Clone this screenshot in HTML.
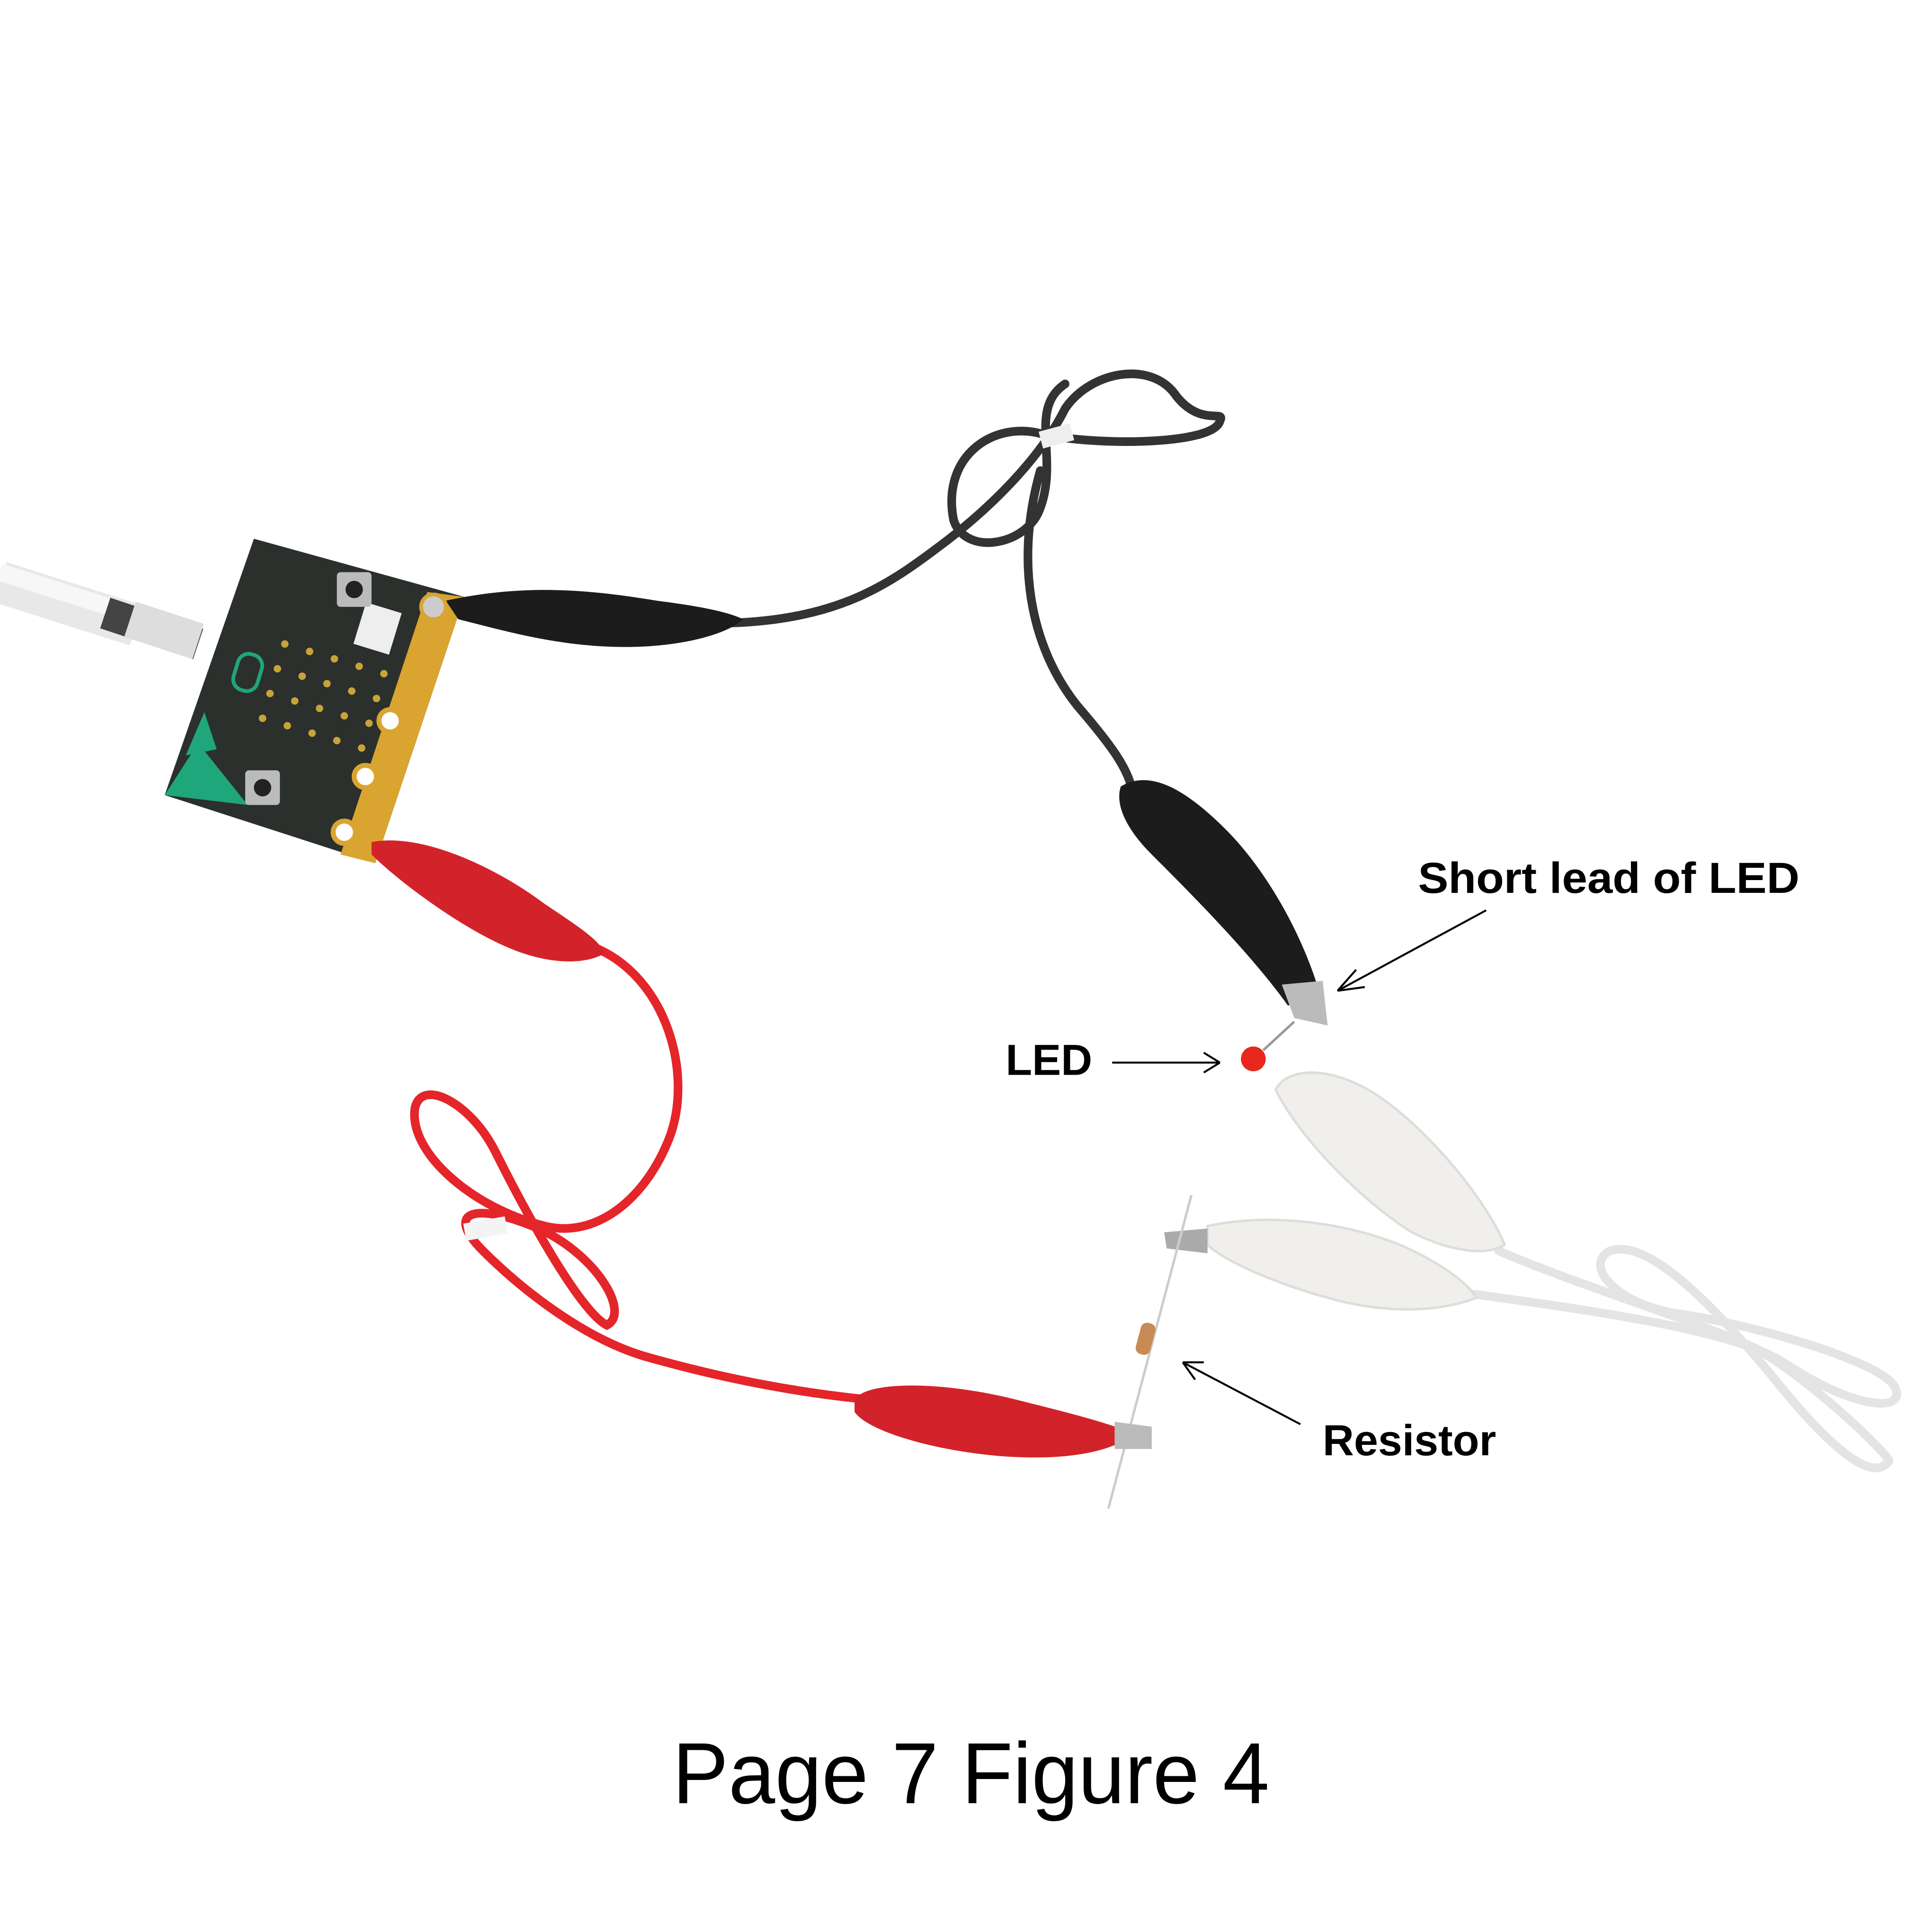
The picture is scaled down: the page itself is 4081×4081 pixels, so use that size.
<!DOCTYPE html>
<html><head><meta charset="utf-8"><style>
html,body{margin:0;padding:0;background:#fff}
svg{display:block}
</style></head><body>
<svg width="4081" height="4081" viewBox="0 0 1560 1560" xmlns="http://www.w3.org/2000/svg">
<rect width="1560" height="1560" fill="#fff"/>
<!-- USB cable -->
<path d="M0,470 L110,505" stroke="#e8e8e8" stroke-width="34" stroke-linecap="butt" fill="none"/>
<path d="M0,462 L110,497" stroke="#f7f7f7" stroke-width="14" fill="none"/>
<path d="M85,495 L160,520" stroke="#444" stroke-width="26" fill="none"/>
<path d="M105,500 L160,518" stroke="#ddd" stroke-width="30" fill="none"/>
<!-- micro:bit board -->
<polygon points="205,435 375,482 303,697 133,642" fill="#2b302c"/>
<polygon points="345,478 375,482 303,697 275,690" fill="#d9a530"/>
<polygon points="133,642 200,650 160,600" fill="#1fa67a"/>
<polygon points="150,610 165,575 175,605" fill="#1fa67a"/>
<rect x="290" y="490" width="30" height="35" fill="#eee" transform="rotate(17 305 507)"/>
<rect x="272" y="462" width="28" height="28" fill="#bbb" rx="3"/>
<circle cx="286" cy="476" r="7" fill="#222"/>
<rect x="198" y="622" width="28" height="28" fill="#bbb" rx="3"/>
<circle cx="212" cy="636" r="7" fill="#222"/>
<g fill="#c9a23a">
<circle cx="230" cy="520" r="3"/><circle cx="250" cy="526" r="3"/><circle cx="270" cy="532" r="3"/><circle cx="290" cy="538" r="3"/><circle cx="310" cy="544" r="3"/>
<circle cx="224" cy="540" r="3"/><circle cx="244" cy="546" r="3"/><circle cx="264" cy="552" r="3"/><circle cx="284" cy="558" r="3"/><circle cx="304" cy="564" r="3"/>
<circle cx="218" cy="560" r="3"/><circle cx="238" cy="566" r="3"/><circle cx="258" cy="572" r="3"/><circle cx="278" cy="578" r="3"/><circle cx="298" cy="584" r="3"/>
<circle cx="212" cy="580" r="3"/><circle cx="232" cy="586" r="3"/><circle cx="252" cy="592" r="3"/><circle cx="272" cy="598" r="3"/><circle cx="292" cy="604" r="3"/>
</g>
<rect x="190" y="528" width="20" height="30" rx="9" fill="none" stroke="#1fa67a" stroke-width="3" transform="rotate(17 200 543)"/>
<circle cx="315" cy="582" r="9" fill="#fff" stroke="#d9a530" stroke-width="4"/>
<circle cx="295" cy="627" r="9" fill="#fff" stroke="#d9a530" stroke-width="4"/>
<circle cx="278" cy="672" r="9" fill="#fff" stroke="#d9a530" stroke-width="4"/>
<!-- black wire -->
<path d="M590,503 C680,500 720,470 760,440 C800,410 840,370 860,330 C880,300 930,290 950,320 C970,345 990,330 985,340 C980,360 880,360 840,350 C800,340 760,370 770,420 C780,450 830,440 840,410 C855,370 830,330 860,310 M840,380 C820,450 830,520 870,570 C900,605 910,620 915,640" stroke="#333" stroke-width="7" fill="none" stroke-linecap="round"/>
<rect x="840" y="345" width="26" height="14" fill="#eee" transform="rotate(-15 853 352)"/>
<!-- black clip top -->
<path d="M360,485 C420,472 470,475 530,485 C570,490 590,495 600,500 C590,510 560,520 520,522 C460,525 410,510 370,500 Z" fill="#1c1c1c"/>
<circle cx="350" cy="490" r="10" fill="#ccc" stroke="#d9a530" stroke-width="3"/>
<!-- black clip right -->
<path d="M905,635 C930,620 960,640 990,670 C1020,700 1050,750 1065,800 L1040,812 C1010,770 960,720 930,690 C910,670 900,650 905,635 Z" fill="#1c1c1c"/>
<polygon points="1035,795 1068,792 1072,828 1045,822" fill="#bbb"/>
<!-- LED -->
<circle cx="1012" cy="855" r="10" fill="#e8271d"/>
<path d="M1020,848 L1045,825" stroke="#999" stroke-width="2"/>
<!-- white wires -->
<path d="M1210,1010 C1280,1040 1380,1070 1420,1090 C1470,1120 1530,1180 1525,1180 C1510,1200 1470,1160 1430,1110 C1380,1050 1330,1000 1300,1010 C1280,1020 1300,1050 1350,1060 C1420,1070 1520,1100 1530,1120 C1540,1140 1500,1140 1440,1100 C1400,1075 1300,1060 1190,1045" stroke="#e4e4e4" stroke-width="7" fill="none" stroke-linecap="round"/>
<!-- white clips -->
<path d="M1030,880 C1040,860 1080,860 1120,890 C1160,920 1200,970 1215,1005 C1200,1015 1170,1010 1140,995 C1100,970 1050,920 1030,880 Z" fill="#f0efeb" stroke="#ddd" stroke-width="2"/>
<path d="M975,990 C1020,980 1080,985 1130,1005 C1160,1018 1185,1035 1192,1048 C1160,1060 1120,1060 1080,1050 C1040,1040 990,1020 975,1005 Z" fill="#f0efeb" stroke="#ddd" stroke-width="2"/>
<polygon points="940,995 975,992 975,1012 942,1008" fill="#aaa"/>
<!-- resistor -->
<path d="M962,965 L895,1218" stroke="#ccc" stroke-width="2"/>
<rect x="919" y="1068" width="12" height="26" rx="5" fill="#c98a55" transform="rotate(15 925 1081)"/>
<!-- red wire -->
<path d="M480,765 C540,790 560,870 540,920 C520,970 480,1000 440,990 C380,975 330,930 335,895 C340,870 380,890 400,930 C430,990 470,1060 490,1070 C510,1060 480,1010 430,990 C380,970 360,980 390,1010 C420,1040 470,1080 520,1095 C590,1115 650,1125 700,1130" stroke="#e4252a" stroke-width="7" fill="none" stroke-linecap="round"/>
<rect x="375" y="985" width="34" height="14" fill="#f4f4f4" transform="rotate(-10 392 992)"/>
<!-- red clip top -->
<path d="M300,680 C340,672 400,700 440,730 C470,750 485,760 488,770 C470,780 440,778 410,765 C370,748 320,710 300,690 Z" fill="#d3232a"/>
<!-- red clip bottom -->
<path d="M690,1130 C700,1115 760,1115 820,1130 C860,1140 900,1150 915,1158 C895,1175 850,1180 800,1175 C750,1170 700,1155 690,1140 Z" fill="#d3232a"/>
<polygon points="900,1148 930,1152 930,1170 900,1170" fill="#bbb"/>
<!-- labels -->
<g font-family="Liberation Sans, sans-serif" font-weight="bold" font-size="35" fill="#000">
<text x="1145" y="721" textLength="308" lengthAdjust="spacingAndGlyphs">Short lead of LED</text>
<text x="812" y="868">LED</text>
<text x="1068" y="1175">Resistor</text>
</g>
<g stroke="#000" stroke-width="1.6" fill="none">
<path d="M1200,735 L1080,800 M1080,800 L1095,783 M1080,800 L1102,797"/>
<path d="M898,858 L985,858 M985,858 L972,850 M985,858 L972,866"/>
<path d="M1050,1150 L955,1100 M955,1100 L965,1114 M955,1100 L972,1100"/>
</g>
<text x="784" y="1456" text-anchor="middle" font-family="Liberation Sans, sans-serif" font-size="70" fill="#000" textLength="482" lengthAdjust="spacingAndGlyphs">Page 7 Figure 4</text>
</svg>
</body></html>
